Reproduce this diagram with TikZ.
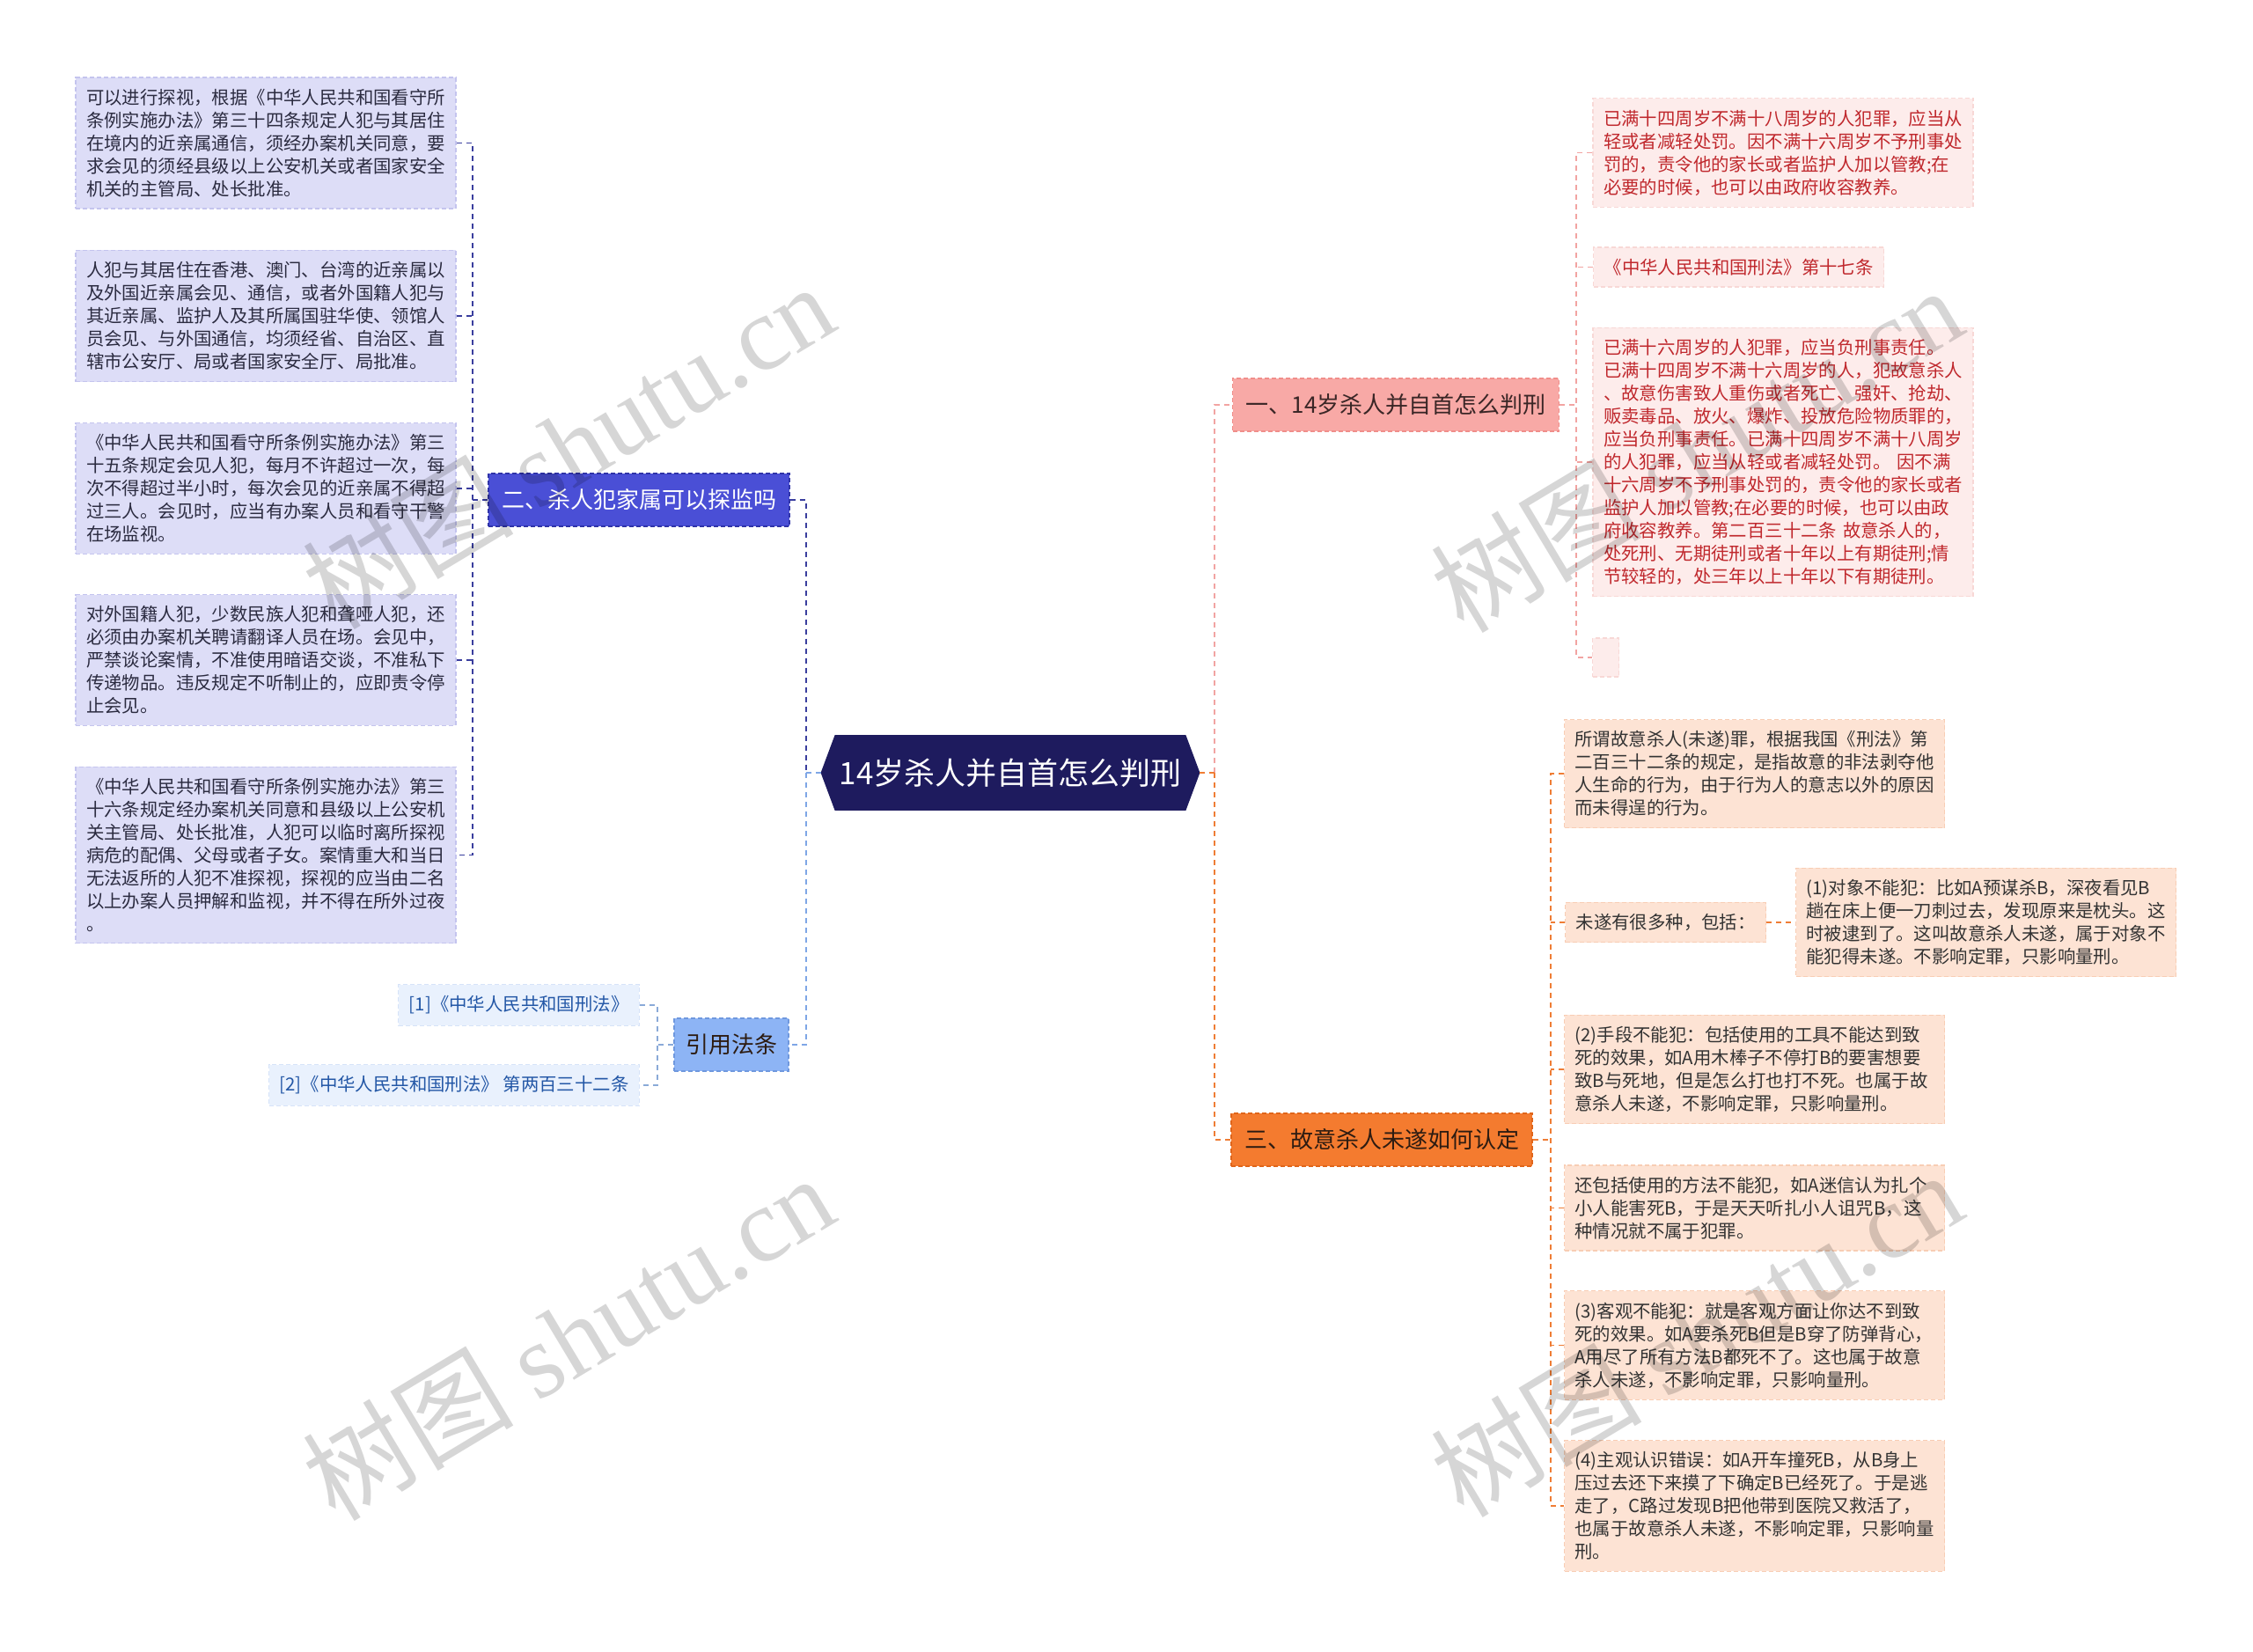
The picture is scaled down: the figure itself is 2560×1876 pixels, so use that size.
\documentclass[tikz,border=0pt]{standalone}
\usepackage{fontspec}
\setmainfont{Noto Sans CJK SC}
\newfontfamily\wmserif{Liberation Serif}
\usetikzlibrary{calc,backgrounds}

\definecolor{rootfill}{HTML}{1E1B5E}
\definecolor{bTwoFill}{HTML}{4A4FD6}
\definecolor{bTwoLine}{HTML}{2F33A8}
\definecolor{lTwoFill}{HTML}{DDDDF7}
\definecolor{lTwoLine}{HTML}{C4C4EE}
\definecolor{lTwoText}{HTML}{2B2B40}
\definecolor{cTwo}{HTML}{3A3E9E}
\definecolor{bCiteFill}{HTML}{8DB4F5}
\definecolor{bCiteLine}{HTML}{6F98DE}
\definecolor{lCiteFill}{HTML}{E9F1FD}
\definecolor{lCiteLine}{HTML}{D6E3F8}
\definecolor{lCiteText}{HTML}{2357A6}
\definecolor{cCite}{HTML}{8AAAD8}
\definecolor{cCiteMain}{HTML}{7EA6E6}
\definecolor{bOneFill}{HTML}{F8A9A6}
\definecolor{bOneLine}{HTML}{F08E8A}
\definecolor{bOneText}{HTML}{3A2626}
\definecolor{lOneFill}{HTML}{FDECEB}
\definecolor{lOneLine}{HTML}{F8D8D6}
\definecolor{lOneText}{HTML}{C0282D}
\definecolor{cOne}{HTML}{F2A4A2}
\definecolor{bThreeFill}{HTML}{F47B2F}
\definecolor{bThreeLine}{HTML}{E0651A}
\definecolor{bThreeText}{HTML}{2D1C12}
\definecolor{lThreeFill}{HTML}{FDE3D4}
\definecolor{lThreeLine}{HTML}{F8CDB4}
\definecolor{lThreeText}{HTML}{333333}
\definecolor{cThree}{HTML}{EF7D35}

\newcommand\leaffont{\fontsize{10.2pt}{13pt}\selectfont}
\newcommand\branchfont{\fontsize{13pt}{16pt}\selectfont}
\newcommand\rootfont{\fontsize{17.5pt}{21pt}\selectfont}

\tikzset{
  boxline/.style={line width=0.6pt, dash pattern=on 2.5pt off 1.5pt},
  leafbase/.style={boxline, font=\leaffont, align=left, inner xsep=6pt, inner ysep=6.5pt},
  wideleaf/.style={leafbase, text width=204pt},
  leafTwo/.style={wideleaf, draw=lTwoLine, fill=lTwoFill, text=lTwoText},
  leafOne/.style={wideleaf, draw=lOneLine, fill=lOneFill, text=lOneText},
  leafOneShort/.style={leafbase, draw=lOneLine, fill=lOneFill, text=lOneText},
  leafThree/.style={wideleaf, draw=lThreeLine, fill=lThreeFill, text=lThreeText},
  leafThreeShort/.style={leafbase, draw=lThreeLine, fill=lThreeFill, text=lThreeText},
  leafCite/.style={leafbase, draw=lCiteLine, fill=lCiteFill, text=lCiteText},
  branchbase/.style={boxline, font=\branchfont, inner xsep=7.5pt, minimum height=30pt},
  branchTwo/.style={branchbase, draw=bTwoLine, fill=bTwoFill, text=white},
  branchOne/.style={branchbase, draw=bOneLine, fill=bOneFill, text=bOneText},
  branchThree/.style={branchbase, draw=bThreeLine, fill=bThreeFill, text=bThreeText},
  branchCite/.style={branchbase, draw=bCiteLine, fill=bCiteFill, text=bThreeText, inner xsep=6.5pt},
  rootnode/.style={font=\rootfont, text=white, minimum width=215pt, minimum height=42.5pt, inner sep=0pt},
  connbase/.style={line width=0.9pt, dash pattern=on 3pt off 2.5pt},
  connTwo/.style={connbase, draw=cTwo},
  connCite/.style={connbase, draw=cCite},
  connCiteMain/.style={connbase, draw=cCiteMain},
  connOne/.style={connbase, draw=cOne},
  connThree/.style={connbase, draw=cThree},
  wm/.style={font=\fontsize{60pt}{60pt}\selectfont, text=black, opacity=0.16, rotate=31, inner sep=0pt}
}

\begin{document}
\begin{tikzpicture}[x=0.5pt,y=-0.5pt]
\useasboundingbox (0,0) rectangle (2560,1876);

% root
\node[rootnode] (root) at (1148,878) {14岁杀人并自首怎么判刑};
\begin{scope}[on background layer]
\fill[white] (0,0) rectangle (2560,1876);
\fill[rootfill] ($(root.north west)+(8pt,0)$) -- ($(root.north east)+(-8pt,0)$) -- (root.east)
  -- ($(root.south east)+(-8pt,0)$) -- ($(root.south west)+(8pt,0)$) -- (root.west) -- cycle;
\end{scope}

% branches
\node[branchTwo] (b2) at (726,568) {二、杀人犯家属可以探监吗};
\node[branchCite] (bc) at (831,1187) {引用法条};
\node[branchOne] (b1) at (1586,460) {一、14岁杀人并自首怎么判刑};
\node[branchThree] (b3) at (1570,1295) {三、故意杀人未遂如何认定};

% left leaves
\node[leafTwo] (l1) at (302,162.5) {可以进行探视，根据《中华人民共和国看守所\\条例实施办法》第三十四条规定人犯与其居住\\在境内的近亲属通信，须经办案机关同意，要\\求会见的须经县级以上公安机关或者国家安全\\机关的主管局、处长批准。};
\node[leafTwo] (l2) at (302,359) {人犯与其居住在香港、澳门、台湾的近亲属以\\及外国近亲属会见、通信，或者外国籍人犯与\\其近亲属、监护人及其所属国驻华使、领馆人\\员会见、与外国通信，均须经省、自治区、直\\辖市公安厅、局或者国家安全厅、局批准。};
\node[leafTwo] (l3) at (302,555) {《中华人民共和国看守所条例实施办法》第三\\十五条规定会见人犯，每月不许超过一次，每\\次不得超过半小时，每次会见的近亲属不得超\\过三人。会见时，应当有办案人员和看守干警\\在场监视。};
\node[leafTwo] (l4) at (302,750) {对外国籍人犯，少数民族人犯和聋哑人犯，还\\必须由办案机关聘请翻译人员在场。会见中，\\严禁谈论案情，不准使用暗语交谈，不准私下\\传递物品。违反规定不听制止的，应即责令停\\止会见。};
\node[leafTwo] (l5) at (302,971.5) {《中华人民共和国看守所条例实施办法》第三\\十六条规定经办案机关同意和县级以上公安机\\关主管局、处长批准，人犯可以临时离所探视\\病危的配偶、父母或者子女。案情重大和当日\\无法返所的人犯不准探视，探视的应当由二名\\以上办案人员押解和监视，并不得在所外过夜\\。};

% citation leaves
\node[leafCite, anchor=east] (c1) at (727,1142) {[1]《中华人民共和国刑法》};
\node[leafCite, anchor=east] (c2) at (727,1233) {[2]《中华人民共和国刑法》 第两百三十二条};

% branch one leaves
\node[leafOne] (r1) at (2026,173.5) {已满十四周岁不满十八周岁的人犯罪，应当从\\轻或者减轻处罚。因不满十六周岁不予刑事处\\罚的，责令他的家长或者监护人加以管教;在\\必要的时候，也可以由政府收容教养。};
\node[leafOneShort, anchor=west] (r2) at (1810,303.5) {《中华人民共和国刑法》第十七条};
\node[leafOne] (r3) at (2026,525) {已满十六周岁的人犯罪，应当负刑事责任。\\已满十四周岁不满十六周岁的人，犯故意杀人\\、故意伤害致人重伤或者死亡、强奸、抢劫、\\贩卖毒品、放火、爆炸、投放危险物质罪的，\\应当负刑事责任。已满十四周岁不满十八周岁\\的人犯罪，应当从轻或者减轻处罚。 因不满\\十六周岁不予刑事处罚的，责令他的家长或者\\监护人加以管教;在必要的时候，也可以由政\\府收容教养。第二百三十二条 故意杀人的，\\处死刑、无期徒刑或者十年以上有期徒刑;情\\节较轻的，处三年以上十年以下有期徒刑。};
\node[boxline, draw=lOneLine, fill=lOneFill, minimum width=15pt, minimum height=22pt, inner sep=0pt, anchor=west] (r4) at (1809,747) {};

% branch three leaves
\node[leafThree] (o1) at (1993.5,879) {所谓故意杀人(未遂)罪，根据我国《刑法》第\\二百三十二条的规定，是指故意的非法剥夺他\\人生命的行为，由于行为人的意志以外的原因\\而未得逞的行为。};
\node[leafThreeShort, anchor=west] (o2) at (1778,1048) {未遂有很多种，包括：};
\node[leafThree] (o2c) at (2256.5,1048) {(1)对象不能犯：比如A预谋杀B，深夜看见B\\趟在床上便一刀刺过去，发现原来是枕头。这\\时被逮到了。这叫故意杀人未遂，属于对象不\\能犯得未遂。不影响定罪，只影响量刑。};
\node[leafThree] (o3) at (1993.5,1215) {(2)手段不能犯：包括使用的工具不能达到致\\死的效果，如A用木棒子不停打B的要害想要\\致B与死地，但是怎么打也打不死。也属于故\\意杀人未遂，不影响定罪，只影响量刑。};
\node[leafThree] (o4) at (1993.5,1372.5) {还包括使用的方法不能犯，如A迷信认为扎个\\小人能害死B，于是天天听扎小人诅咒B，这\\种情况就不属于犯罪。};
\node[leafThree] (o5) at (1993.5,1528.5) {(3)客观不能犯：就是客观方面让你达不到致\\死的效果。如A要杀死B但是B穿了防弹背心，\\A用尽了所有方法B都死不了。这也属于故意\\杀人未遂，不影响定罪，只影响量刑。};
\node[leafThree] (o6) at (1993.5,1711) {(4)主观认识错误：如A开车撞死B，从B身上\\压过去还下来摸了下确定B已经死了。于是逃\\走了，C路过发现B把他带到医院又救活了，\\也属于故意杀人未遂，不影响定罪，只影响量\\刑。};

% junction coordinates
\coordinate (jL) at (916,878);
\coordinate (jR) at (1380,878);
\coordinate (j2) at (537,568);
\coordinate (jc) at (747,1187);
\coordinate (j1) at (1791,460);
\coordinate (j3) at (1762,1295);

% root connectors
\draw[connTwo] (b2.east) -| (jL);
\draw[connCiteMain] (jL) |- (bc.east);
\draw[connCiteMain] (root.west) -- (jL);
\draw[connOne] (jR) |- (b1.west);
\draw[connThree] (jR) |- (b3.west);
\draw[connThree] (root.east) -- (jR);

% branch two connectors
\draw[connTwo] (b2.west) -- (j2);
\draw[connTwo] (l1.east) -- (l1.east -| j2) -- (l5.east -| j2) -- (l5.east);
\draw[connTwo] (l2.east) -- (l2.east -| j2);
\draw[connTwo] (l3.east) -- (l3.east -| j2);
\draw[connTwo] (l4.east) -- (l4.east -| j2);

% citation connectors
\draw[connCite] (bc.west) -- (jc);
\draw[connCite] (c1.east) -- (c1.east -| jc) -- (c2.east -| jc) -- (c2.east);

% branch one connectors
\draw[connOne] (b1.east) -- (j1);
\draw[connOne] (r1.west) -- (r1.west -| j1) -- (r4.west -| j1) -- (r4.west);
\draw[connOne] (r2.west) -- (r2.west -| j1);
\draw[connOne] (r3.west) -- (r3.west -| j1);

% branch three connectors
\draw[connThree] (b3.east) -- (j3);
\draw[connThree] (o1.west) -- (o1.west -| j3) -- (o6.west -| j3) -- (o6.west);
\draw[connThree] (o2.west) -- (o2.west -| j3);
\draw[connThree] (o3.west) -- (o3.west -| j3);
\draw[connThree] (o4.west) -- (o4.west -| j3);
\draw[connThree] (o5.west) -- (o5.west -| j3);
\draw[connThree] (o2.east) -- (o2c.west);

% watermarks
\node[wm] (wm1) at (645,506) {树图 {\wmserif shutu.cn}};
\node[wm] (wm2) at (645,1519) {树图 {\wmserif shutu.cn}};
\node[wm] (wm3) at (1927,510) {树图 {\wmserif shutu.cn}};
\node[wm] (wm4) at (1927,1515) {树图 {\wmserif shutu.cn}};
\end{tikzpicture}
\end{document}
